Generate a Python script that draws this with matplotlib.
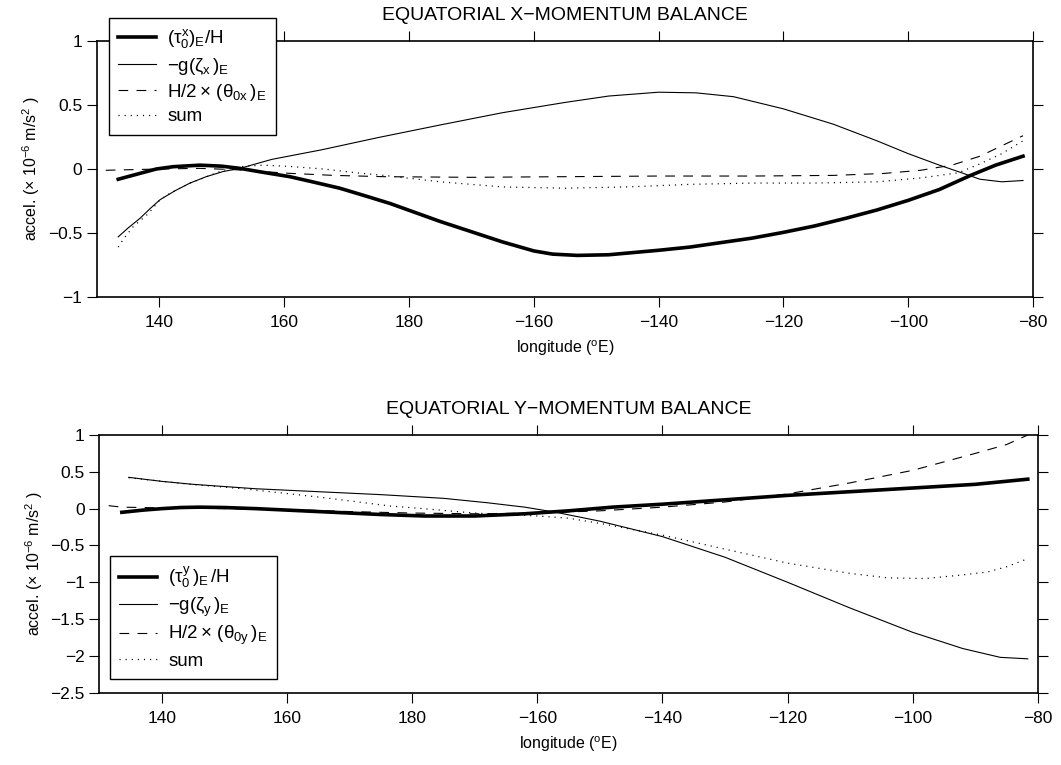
import matplotlib
matplotlib.use("Agg")
import matplotlib.pyplot as plt
from matplotlib.ticker import FixedLocator, FuncFormatter

plt.rcParams['font.family'] = ['Liberation Sans', 'DejaVu Sans']
plt.rcParams['mathtext.fontset'] = 'custom'
plt.rcParams['mathtext.rm'] = 'Liberation Sans'
plt.rcParams['mathtext.it'] = 'Liberation Sans'
plt.rcParams['mathtext.bf'] = 'Liberation Sans:bold'
plt.rcParams['lines.scale_dashes'] = False

# ---------------- x-momentum balance (longitude in degrees east, 0..360) ----
lon_taux = [133.4, 136.9, 139.5, 142.2, 146.5, 150.0, 152.9, 156.5, 160.9, 164.5,
            168.9, 173.0, 177.0, 181.0, 185.0, 190.0, 195.0, 200.0, 203.0, 207.0,
            212.0, 220.0, 225.0, 230.0, 235.0, 240.0, 245.0, 250.0, 255.0, 260.0,
            265.0, 270.0, 274.0, 278.4]
taux = [-0.08, -0.034, 0.0, 0.018, 0.03, 0.022, 0.005, -0.025, -0.06, -0.10,
        -0.15, -0.21, -0.27, -0.34, -0.41, -0.49, -0.57, -0.64, -0.665, -0.675,
        -0.67, -0.635, -0.61, -0.575, -0.54, -0.495, -0.445, -0.385, -0.32, -0.245,
        -0.16, -0.05, 0.03, 0.10]

lon_zetax = [133.4, 135.0, 136.9, 138.5, 140.1, 142.5, 144.9, 147.5, 150.2, 152.9,
             158.0, 166.0, 175.0, 185.0, 195.0, 205.0, 212.0, 220.0, 226.0, 232.0,
             240.0, 248.0, 255.0, 260.0, 265.0, 268.0, 271.5, 275.0, 278.4]
zetax = [-0.53, -0.46, -0.385, -0.31, -0.24, -0.17, -0.11, -0.06, -0.02, 0.005,
         0.075, 0.15, 0.245, 0.344, 0.44, 0.52, 0.57, 0.60, 0.595, 0.565,
         0.47, 0.35, 0.22, 0.12, 0.03, -0.02, -0.08, -0.10, -0.09]

lon_thetax = [131.4, 140.0, 146.5, 152.0, 160.9, 168.0, 176.0, 190.0, 205.0, 220.0,
              235.0, 248.0, 256.0, 262.0, 267.0, 271.5, 274.5, 278.4]
thetax = [-0.01, 0.0, 0.005, -0.005, -0.034, -0.05, -0.06, -0.065, -0.06, -0.055,
          -0.055, -0.05, -0.035, -0.01, 0.03, 0.10, 0.17, 0.26]

lon_sumx = [133.4, 134.2, 135.8, 138.2, 140.1, 141.7, 144.9, 147.6, 150.2, 153.4,
            156.6, 160.9, 166.3, 171.6, 176.0, 185.0, 195.0, 205.0, 215.0, 225.0,
            235.0, 245.0, 255.0, 262.0, 268.0, 271.5, 275.0, 278.4]
sumx = [-0.61, -0.55, -0.45, -0.35, -0.24, -0.19, -0.11, -0.06, -0.01, 0.02,
        0.03, 0.02, 0.0, -0.03, -0.05, -0.10, -0.14, -0.15, -0.14, -0.12,
        -0.11, -0.11, -0.10, -0.07, -0.03, 0.04, 0.12, 0.22]

# ---------------- y-momentum balance ----------------------------------------
lon_tauy = [133.6, 137.0, 140.0, 143.0, 146.0, 150.0, 155.0, 160.0, 165.0, 170.0,
            175.0, 182.0, 190.0, 198.0, 205.0, 212.0, 220.0, 230.0, 240.0, 250.0,
            260.0, 270.0, 278.4]
tauy = [-0.05, -0.02, 0.0, 0.015, 0.02, 0.015, 0.0, -0.02, -0.04, -0.06,
        -0.08, -0.10, -0.10, -0.07, -0.03, 0.02, 0.06, 0.12, 0.18, 0.23,
        0.28, 0.33, 0.40]

lon_zetay = [134.7, 140.0, 145.0, 155.0, 165.0, 175.0, 185.0, 192.0, 198.0, 203.0,
             210.0, 220.0, 230.0, 240.0, 250.0, 260.0, 268.0, 274.0, 278.4]
zetay = [0.425, 0.37, 0.33, 0.27, 0.23, 0.19, 0.14, 0.08, 0.02, -0.05,
         -0.17, -0.38, -0.66, -1.0, -1.35, -1.68, -1.90, -2.02, -2.04]

lon_thetay = [131.5, 133.6, 140.0, 150.0, 160.0, 170.0, 180.0, 190.0, 200.0, 210.0,
              220.0, 230.0, 240.0, 250.0, 260.0, 270.0, 275.0, 278.4]
thetay = [0.04, 0.02, 0.01, 0.0, -0.01, -0.04, -0.06, -0.07, -0.06, -0.03,
          0.02, 0.09, 0.20, 0.35, 0.52, 0.75, 0.87, 1.0]

lon_sumy = [134.7, 138.0, 144.5, 153.0, 160.5, 165.8, 171.1, 176.5, 181.8, 187.1,
            190.0, 195.0, 200.0, 205.0, 210.0, 220.0, 230.0, 240.0, 250.0, 256.0,
            262.0, 268.0, 272.0, 275.0, 278.4]
sumy = [0.42, 0.39, 0.33, 0.27, 0.20, 0.15, 0.094, 0.035, 0.0, -0.04,
        -0.06, -0.08, -0.10, -0.13, -0.20, -0.36, -0.55, -0.74, -0.88, -0.94,
        -0.95, -0.90, -0.86, -0.79, -0.68]

# ---------------- axes labelling --------------------------------------------
lon_ticks = [140, 160, 180, 200, 220, 240, 260, 280]
lon_labels = ['140', '160', '180', '\u2212160', '\u2212140', '\u2212120', '\u2212100', '\u221280']
yticks_x = [-1, -0.5, 0, 0.5, 1]
yticks_y = [-2.5, -2, -1.5, -1, -0.5, 0, 0.5, 1]

labels_x = [r'$(\tau^{x}_{0})_{E}/H$', r'$-g(\zeta_{x}\,)_{E}$',
            r'$H/2\times\,(\theta_{0x}\,)_{E}$', 'sum']
labels_y = [r'$(\tau^{y}_{0}\,)_{E}\,/H$', r'$-g(\zeta_{y}\,)_{E}$',
            r'$H/2\times\,(\theta_{0y}\,)_{E}$', 'sum']

TICK_FS = 12.5
LABEL_FS = 11.5
TITLE_FS = 14
LEGEND_FS = 13.5
W = 1061
H = 765


def fmt_num(v, _pos=None):
    s = '%g' % v
    return s.replace('-', '\u2212')


def style_axes(ax, yticks, ylim, title):
    ax.set_xlim(130, 280)
    ax.set_ylim(*ylim)
    ax.xaxis.set_major_locator(FixedLocator(lon_ticks))
    ax.set_xticklabels(lon_labels)
    ax.yaxis.set_major_locator(FixedLocator(yticks))
    ax.yaxis.set_major_formatter(FuncFormatter(fmt_num))
    ax.tick_params(direction='out', length=7, width=0.8, labelsize=TICK_FS,
                   top=True, right=True, colors='black')
    ax.tick_params(axis='x', pad=6)
    ax.tick_params(axis='y', pad=3.5)
    for sp in ax.spines.values():
        sp.set_linewidth(1.2)
    ax.set_xlabel(r'longitude ($^{\mathrm{o}}$E)', fontsize=LABEL_FS, labelpad=6)
    ax.set_ylabel(r'accel. ($\times$ 10$^{-6}$ m/s$^{2}$ )', fontsize=LABEL_FS, labelpad=4)
    ax.set_title(title, fontsize=TITLE_FS, pad=15)


def draw(ax, series, labels, legend_xy):
    styles = [dict(color='black', lw=2.6, linestyle='-'),
              dict(color='black', lw=0.8, linestyle='-'),
              dict(color='black', lw=0.8, linestyle=(0, (7, 6))),
              dict(color='black', lw=0.9, linestyle=(0, (0.8, 3.6)))]
    handles = []
    for (xs, ys), st, lab in zip(series, styles, labels):
        h, = ax.plot(xs, ys, label=lab, **st)
        handles.append(h)
    leg = ax.legend(handles=handles, loc='upper left',
                    bbox_to_anchor=(legend_xy[0] / W, 1 - legend_xy[1] / H),
                    bbox_transform=ax.figure.transFigure, borderaxespad=0,
                    fontsize=LEGEND_FS, frameon=True, fancybox=False, framealpha=1,
                    edgecolor='black', handlelength=2.0, handletextpad=0.6,
                    borderpad=0.5, labelspacing=0.28)
    leg.get_frame().set_linewidth(1.0)


fig = plt.figure(figsize=(W / 100, H / 100), dpi=100)
ax1 = fig.add_axes([97 / W, 1 - 297 / H, 936 / W, 256 / H])
ax2 = fig.add_axes([99.3 / W, 1 - 692.7 / H, 938.5 / W, 257.7 / H])

style_axes(ax1, yticks_x, (-1, 1), 'EQUATORIAL X\u2212MOMENTUM BALANCE')
style_axes(ax2, yticks_y, (-2.5, 1), 'EQUATORIAL Y\u2212MOMENTUM BALANCE')

draw(ax1, [(lon_taux, taux), (lon_zetax, zetax), (lon_thetax, thetax), (lon_sumx, sumx)],
     labels_x, (109, 18))
draw(ax2, [(lon_tauy, tauy), (lon_zetay, zetay), (lon_thetay, thetay), (lon_sumy, sumy)],
     labels_y, (110, 555.7))

fig.savefig('out.png', dpi=100)
